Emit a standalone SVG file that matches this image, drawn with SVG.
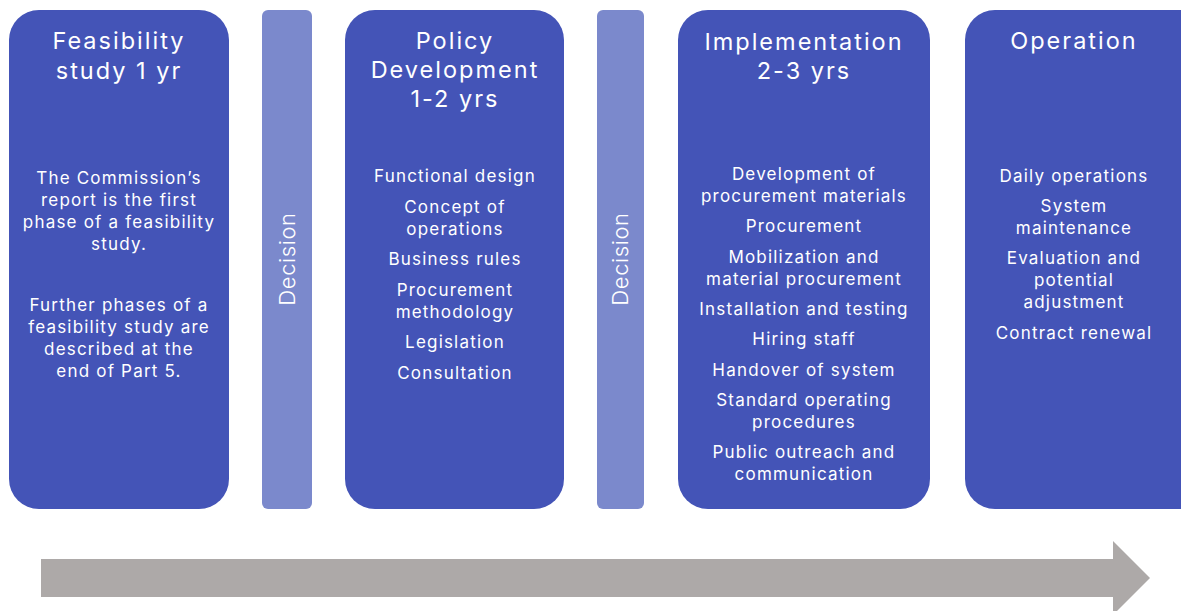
<svg xmlns="http://www.w3.org/2000/svg" width="1181" height="611" viewBox="0 0 1181 611">
<style>
.box{fill:#4454B7}
.dec{fill:#7B89CC}
text{font-family:Inter,"Open Sans",sans-serif;fill:#fff;text-anchor:middle}
.t{font-size:23.5px;letter-spacing:2px}
.b{font-size:17px;letter-spacing:1.2px}
.d{font-size:22px;letter-spacing:0.6px;font-weight:300}
</style>
<rect width="1181" height="611" fill="#fff"/>
<g id="connectors">
<path d="M41 559 H1113 V541 L1150 578 L1113 615 V597 H41 Z" fill="#ADA9A8"/>
</g>
<g id="feasibility">
<rect class="box" x="9" y="10" width="220" height="499" rx="30"/>
<text class="t" x="119" y="49">Feasibility</text>
<text class="t" x="119" y="79">study 1 yr</text>
<text class="b" x="119" y="184">The Commission’s</text>
<text class="b" x="119" y="206">report is the first</text>
<text class="b" x="119" y="228">phase of a feasibility</text>
<text class="b" x="119" y="250">study.</text>
<text class="b" x="119" y="311">Further phases of a</text>
<text class="b" x="119" y="333">feasibility study are</text>
<text class="b" x="119" y="355">described at the</text>
<text class="b" x="119" y="377">end of Part 5.</text>
</g>
<g id="decision1">
<rect class="dec" x="262" y="10" width="50" height="499" rx="6"/>
<text class="d" transform="translate(295 259) rotate(-90)">Decision</text>
</g>
<g id="policy">
<rect class="box" x="345" y="10" width="219" height="499" rx="30"/>
<text class="t" x="455" y="49">Policy</text>
<text class="t" x="455" y="78">Development</text>
<text class="t" x="455" y="107">1-2 yrs</text>
<text class="b" x="455" y="182">Functional design</text>
<text class="b" x="455" y="213">Concept of</text>
<text class="b" x="455" y="235">operations</text>
<text class="b" x="455" y="265">Business rules</text>
<text class="b" x="455" y="296">Procurement</text>
<text class="b" x="455" y="318">methodology</text>
<text class="b" x="455" y="348">Legislation</text>
<text class="b" x="455" y="379">Consultation</text>
</g>
<g id="decision2">
<rect class="dec" x="597" y="10" width="47" height="499" rx="6"/>
<text class="d" transform="translate(628 259) rotate(-90)">Decision</text>
</g>
<g id="implementation">
<rect class="box" x="678" y="10" width="252" height="499" rx="30"/>
<text class="t" x="804" y="50">Implementation</text>
<text class="t" x="804" y="79">2-3 yrs</text>
<text class="b" x="804" y="180">Development of</text>
<text class="b" x="804" y="202">procurement materials</text>
<text class="b" x="804" y="232">Procurement</text>
<text class="b" x="804" y="263">Mobilization and</text>
<text class="b" x="804" y="285">material procurement</text>
<text class="b" x="804" y="315">Installation and testing</text>
<text class="b" x="804" y="345">Hiring staff</text>
<text class="b" x="804" y="376">Handover of system</text>
<text class="b" x="804" y="406">Standard operating</text>
<text class="b" x="804" y="428">procedures</text>
<text class="b" x="804" y="458">Public outreach and</text>
<text class="b" x="804" y="480">communication</text>
</g>
<g id="operation">
<rect class="box" x="965" y="10" width="250" height="499" rx="30"/>
<text class="t" x="1074" y="49">Operation</text>
<text class="b" x="1074" y="182">Daily operations</text>
<text class="b" x="1074" y="212">System</text>
<text class="b" x="1074" y="234">maintenance</text>
<text class="b" x="1074" y="264">Evaluation and</text>
<text class="b" x="1074" y="286">potential</text>
<text class="b" x="1074" y="308">adjustment</text>
<text class="b" x="1074" y="339">Contract renewal</text>
</g>
</svg>
